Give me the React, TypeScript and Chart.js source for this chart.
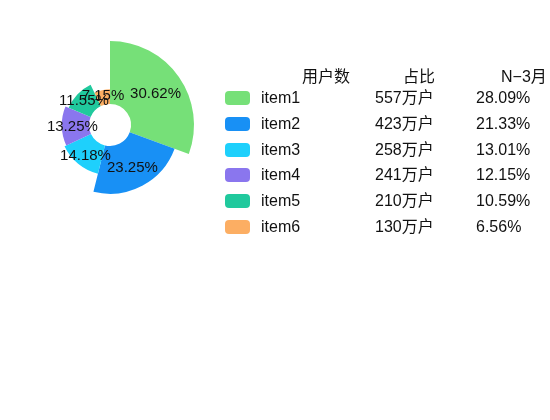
import { useEffect, useRef } from "react";
import { Chart, registerables, type Plugin } from "chart.js";

Chart.register(...registerables);

const categories = ["item1", "item2", "item3", "item4", "item5", "item6"];
const pieShares = [30.62, 23.25, 14.18, 13.25, 11.55, 7.15];
const userCounts = ["557万户", "423万户", "258万户", "241万户", "210万户", "130万户"];
const ratioLabels = ["28.09%", "21.33%", "13.01%", "12.15%", "10.59%", "6.56%"];
const headers = ["用户数", "占比", "N−3月"];
const colors = ["#76e078", "#1890f5", "#1ed0fc", "#8a76ee", "#20c99d", "#fcae63"];

const FONT = '"Liberation Sans", "Noto Sans CJK SC", sans-serif';

// rose type: outer radius follows the value
const rosePlugin: Plugin<"doughnut"> = {
  id: "roseRadius",
  afterDatasetsUpdate(chart) {
    const meta = chart.getDatasetMeta(0);
    const max = Math.max(...pieShares);
    meta.data.forEach((arc: any, i) => {
      const inner = arc.innerRadius;
      const outer = arc.outerRadius;
      arc.outerRadius = inner + ((outer - inner) * pieShares[i]) / max;
    });
  },
};

const labelPlugin: Plugin<"doughnut"> = {
  id: "insideLabels",
  afterDatasetsDraw(chart) {
    const ctx = chart.ctx;
    const meta = chart.getDatasetMeta(0);
    ctx.save();
    ctx.font = `15px ${FONT}`;
    ctx.fillStyle = "#111";
    ctx.textAlign = "center";
    ctx.textBaseline = "middle";
    meta.data.forEach((arc: any, i) => {
      const { x, y, startAngle, endAngle, innerRadius, outerRadius } = arc;
      const mid = (startAngle + endAngle) / 2;
      const r = (innerRadius + outerRadius) / 2 + 3;
      ctx.fillText(`${pieShares[i]}%`, x + Math.cos(mid) * r, y + Math.sin(mid) * r + 1);
    });
    ctx.restore();
  },
};

export default function App() {
  const canvasRef = useRef<HTMLCanvasElement>(null);

  useEffect(() => {
    if (!canvasRef.current) return;
    const chart = new Chart(canvasRef.current, {
      type: "doughnut",
      data: {
        labels: categories,
        datasets: [
          {
            data: pieShares,
            backgroundColor: colors,
            borderWidth: 0,
          },
        ],
      },
      options: {
        animation: false,
        responsive: false,
        cutout: 21,
        layout: { padding: { left: 26, top: 41, right: 356, bottom: 211 } },
        plugins: { legend: { display: false }, tooltip: { enabled: false } },
      },
      plugins: [rosePlugin, labelPlugin],
    });
    return () => chart.destroy();
  }, []);

  const text = { position: "absolute" as const, fontSize: 16, lineHeight: "18px", color: "#111", whiteSpace: "nowrap" as const };

  return (
    <div style={{ position: "fixed", left: 0, top: 0, width: 550, height: 420, background: "#fff", fontFamily: FONT, overflow: "hidden" }}>
      <canvas ref={canvasRef} width={550} height={420} style={{ position: "absolute", left: 0, top: 0 }} />
      <div style={{ ...text, left: 302, top: 68 }}>{headers[0]}</div>
      <div style={{ ...text, left: 403, top: 68 }}>{headers[1]}</div>
      <div style={{ ...text, left: 501, top: 68 }}>{headers[2]}</div>
      {categories.map((name, i) => {
        const cy = 98 + i * 25.8;
        return (
          <div key={name}>
            <div style={{ position: "absolute", left: 225, top: cy - 7, width: 25, height: 14, borderRadius: 4, background: colors[i] }} />
            <div style={{ ...text, left: 261, top: cy - 9 }}>{name}</div>
            <div style={{ ...text, left: 375, top: cy - 9 }}>{userCounts[i]}</div>
            <div style={{ ...text, left: 476, top: cy - 9 }}>{ratioLabels[i]}</div>
          </div>
        );
      })}
    </div>
  );
}
